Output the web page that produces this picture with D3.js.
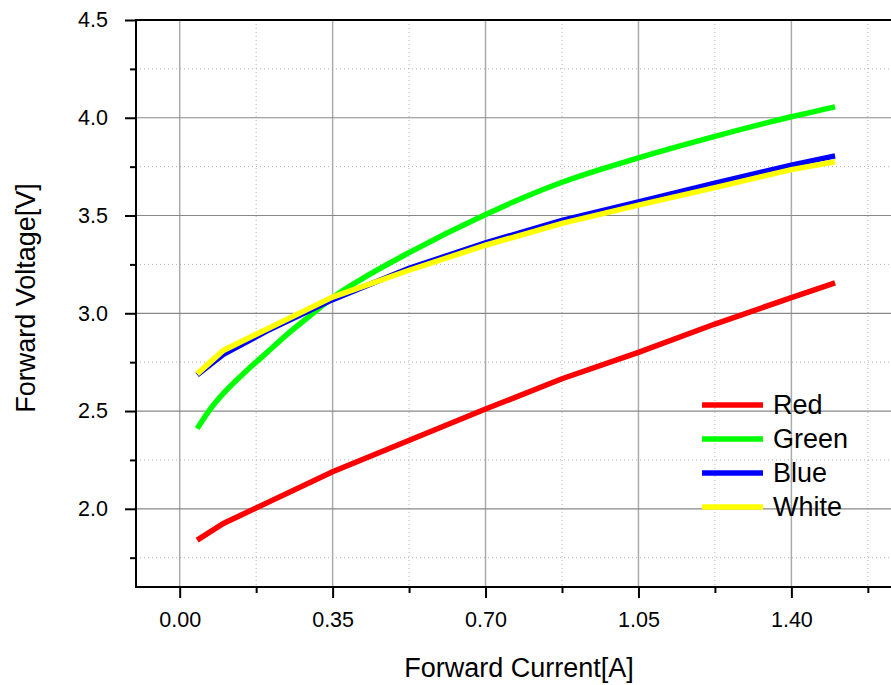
<!DOCTYPE html>
<html>
<head>
<meta charset="utf-8">
<script src="https://cdn.jsdelivr.net/npm/d3@7"></script>
<style>
  html, body { margin: 0; padding: 0; background: #fff; }
  svg { display: block; font-family: "Liberation Sans", Arial, sans-serif; }
</style>
</head>
<body>
<svg id="chart" width="891" height="685"></svg>
<script>
// ---- data ----
const seriesNames = ["Red", "Green", "Blue", "White"];
const seriesColors = ["#ff0000", "#00ff00", "#0000ff", "#ffff00"];

const redCurrent   = [0.04, 0.10, 0.35, 0.70, 0.875, 1.05, 1.225, 1.40, 1.50];
const redVoltage   = [1.84, 1.925, 2.19, 2.51, 2.665, 2.80, 2.945, 3.08, 3.155];

const greenCurrent = [0.04, 0.07, 0.10, 0.15, 0.20, 0.25, 0.30, 0.35, 0.42, 0.525, 0.70, 0.79, 0.875, 1.05, 1.225, 1.40, 1.50];
const greenVoltage = [2.41, 2.51, 2.59, 2.70, 2.80, 2.90, 2.99, 3.08, 3.18, 3.31, 3.505, 3.595, 3.67, 3.795, 3.905, 4.005, 4.056];

const blueCurrent  = [0.04, 0.10, 0.20, 0.35, 0.525, 0.70, 0.875, 1.05, 1.225, 1.40, 1.50];
const blueVoltage  = [2.685, 2.79, 2.91, 3.07, 3.23, 3.36, 3.475, 3.57, 3.665, 3.758, 3.805];

const whiteCurrent = [0.04, 0.10, 0.20, 0.35, 0.525, 0.70, 0.875, 1.05, 1.225, 1.40, 1.50];
const whiteVoltage = [2.69, 2.81, 2.92, 3.083, 3.22, 3.348, 3.46, 3.553, 3.643, 3.735, 3.775];

const xMajorTicks = [0.00, 0.35, 0.70, 1.05, 1.40];
const xMinorTicks = [0.175, 0.525, 0.875, 1.225, 1.575];
const yMajorTicks = [2.0, 2.5, 3.0, 3.5, 4.0, 4.5];
const yMinorTicks = [1.75, 2.25, 2.75, 3.25, 3.75, 4.25];

const xTitle = "Forward Current[A]";
const yTitle = "Forward Voltage[V]";

// ---- layout ----
const svg = d3.select("#chart");
const pLeft = 136, pRight = 891, pTop = 20, pBottom = 587;

const x = d3.scaleLinear().domain([-0.1, 1.628]).range([pLeft, pRight]);
const y = d3.scaleLinear().domain([1.6, 4.5]).range([pBottom, pTop]);

const series = [
  {name: seriesNames[0], color: seriesColors[0], xs: redCurrent, ys: redVoltage, curve: d3.curveLinear},
  {name: seriesNames[1], color: seriesColors[1], xs: greenCurrent, ys: greenVoltage, curve: d3.curveMonotoneX},
  {name: seriesNames[2], color: seriesColors[2], xs: blueCurrent, ys: blueVoltage, curve: d3.curveLinear},
  {name: seriesNames[3], color: seriesColors[3], xs: whiteCurrent, ys: whiteVoltage, curve: d3.curveLinear}
];

// grid
const grid = svg.append("g");
grid.selectAll(".gxm").data(xMinorTicks).join("line")
  .attr("x1", d => x(d)).attr("x2", d => x(d)).attr("y1", pTop).attr("y2", pBottom)
  .attr("stroke", "#b0b0b0").attr("stroke-width", 1).attr("stroke-dasharray", "1,3");
grid.selectAll(".gym").data(yMinorTicks).join("line")
  .attr("x1", pLeft).attr("x2", pRight).attr("y1", d => y(d)).attr("y2", d => y(d))
  .attr("stroke", "#b0b0b0").attr("stroke-width", 1).attr("stroke-dasharray", "1,3");
grid.selectAll(".gx").data(xMajorTicks).join("line")
  .attr("x1", d => x(d)).attr("x2", d => x(d)).attr("y1", pTop).attr("y2", pBottom)
  .attr("stroke", "#ababab").attr("stroke-width", 1.5);
grid.selectAll(".gy").data(yMajorTicks.filter(v => v < 4.5)).join("line")
  .attr("x1", pLeft).attr("x2", pRight).attr("y1", d => y(d)).attr("y2", d => y(d))
  .attr("stroke", "#888").attr("stroke-width", 1.2);

// series
svg.append("g").selectAll("path").data(series).join("path")
  .attr("d", s => d3.line().curve(s.curve).x(d => x(d[0])).y(d => y(d[1]))(s.xs.map((v, i) => [v, s.ys[i]])))
  .attr("fill", "none").attr("stroke", s => s.color)
  .attr("stroke-width", 5.5).attr("stroke-linejoin", "miter").attr("stroke-linecap", "butt");

// axes
const tickFont = "21.5px";
const yAxis = svg.append("g").attr("transform", `translate(${pLeft},0)`)
  .call(d3.axisLeft(y).tickValues(yMajorTicks).tickSize(11).tickPadding(17).tickFormat(d3.format(".1f")));
const yAxisMinor = svg.append("g").attr("transform", `translate(${pLeft},0)`)
  .call(d3.axisLeft(y).tickValues(yMinorTicks).tickSize(6).tickFormat(""));
const xAxis = svg.append("g").attr("transform", `translate(0,${pBottom})`)
  .call(d3.axisBottom(x).tickValues(xMajorTicks).tickSize(11).tickPadding(14).tickFormat(d3.format(".2f")));
const xAxisMinor = svg.append("g").attr("transform", `translate(0,${pBottom})`)
  .call(d3.axisBottom(x).tickValues(xMinorTicks).tickSize(6).tickFormat(""));
[yAxis, yAxisMinor, xAxis, xAxisMinor].forEach(g => {
  g.select(".domain").remove();
  g.selectAll(".tick line").attr("stroke", "#000").attr("stroke-width", 2);
  g.selectAll(".tick text").attr("fill", "#000").style("font-size", tickFont)
    .style("font-family", "'Liberation Sans', Arial, sans-serif");
});

// frame lines
svg.append("line").attr("x1", pLeft).attr("x2", pLeft).attr("y1", pTop - 1).attr("y2", pBottom + 1)
  .attr("stroke", "#000").attr("stroke-width", 2);
svg.append("line").attr("x1", pLeft).attr("x2", pRight).attr("y1", pTop).attr("y2", pTop)
  .attr("stroke", "#000").attr("stroke-width", 2);
svg.append("line").attr("x1", pLeft).attr("x2", pRight).attr("y1", pBottom).attr("y2", pBottom)
  .attr("stroke", "#000").attr("stroke-width", 2);

// titles
svg.append("text").attr("x", 519).attr("y", 677).attr("text-anchor", "middle")
  .style("font-size", "27px").attr("fill", "#000").text(xTitle);
svg.append("text").attr("transform", "translate(35,298) rotate(-90)").attr("text-anchor", "middle")
  .style("font-size", "27px").attr("fill", "#000").text(yTitle);

// legend
const legend = svg.append("g");
const legY = d3.scaleLinear().domain([0, 3]).range([405, 507]);
series.forEach((s, i) => {
  legend.append("line").attr("x1", 702).attr("x2", 763).attr("y1", legY(i)).attr("y2", legY(i))
    .attr("stroke", s.color).attr("stroke-width", 5.5);
  legend.append("text").attr("x", 773).attr("y", legY(i) + 9)
    .style("font-size", "27px").attr("fill", "#000").text(s.name);
});
</script>
</body>
</html>
